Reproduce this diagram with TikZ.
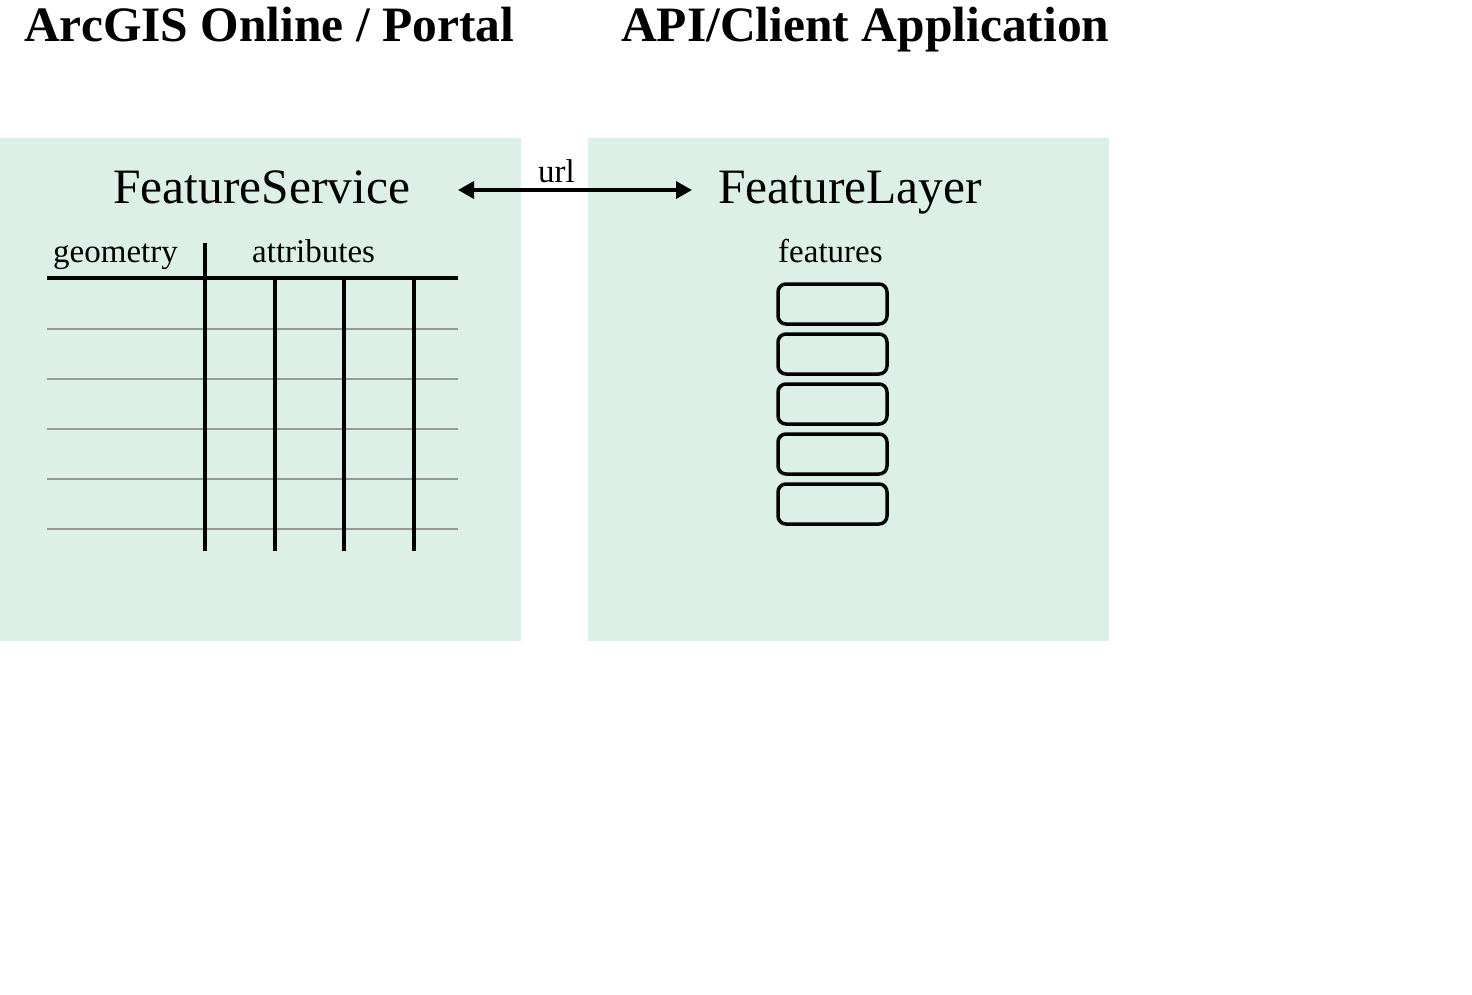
\documentclass[tikz,border=0pt]{standalone}
\usepackage{fontspec}
\setmainfont{Liberation Serif}
\usetikzlibrary{arrows.meta}
\definecolor{panelgreen}{RGB}{221,240,232}
\definecolor{rowgray}{RGB}{150,153,150}
\tikzset{
  panel/.style={fill=panelgreen, draw=none},
  titletext/.style={anchor=base west, inner sep=0pt, font=\fontsize{49.5}{59}\selectfont\bfseries},
  bigtext/.style={anchor=base west, inner sep=0pt, font=\fontsize{49.5}{59}\selectfont},
  smalltext/.style={anchor=base west, inner sep=0pt, font=\fontsize{33}{40}\selectfont},
  thickline/.style={line width=3.5pt},
  rowline/.style={draw=rowgray, line width=2pt},
  featbox/.style={draw, line width=3.5pt, rounded corners=8pt, minimum width=109pt, minimum height=40pt, inner sep=0pt},
  urlarrow/.style={line width=3.5pt, {Triangle[length=16pt,width=17pt]}-{Triangle[length=16pt,width=17pt]}}
}
\begin{document}
\begin{tikzpicture}[x=1pt,y=-1pt]
\useasboundingbox (0,0) rectangle (1472,995);
% panels
\path[panel] (0,138) rectangle (521,641);
\path[panel] (588,138) rectangle (1109,641);
% titles
\node[titletext] (t1) at (24,42) {ArcGIS Online / Portal};
\node[titletext] (t2) at (621,42) {API/Client Application};
% headings
\node[bigtext] (fs) at (113,204) {FeatureService};
\node[bigtext] (fl) at (718,204) {FeatureLayer};
% url arrow
\coordinate (aL) at (458,190);
\coordinate (aR) at (692,190);
\draw[urlarrow] (aL) -- (aR);
\node[smalltext] (url) at (538,183) {url};
% table
\node[smalltext] (geo) at (53,262) {geometry};
\node[smalltext] (attr) at (252,262) {attributes};
\foreach \yy in {329,379,429,479,529}
  \draw[rowline] (47,\yy) -- (458,\yy);
\draw[thickline] (47,278) -- (458,278);
\draw[thickline] (205,243) -- (205,551);
\foreach \xx in {275,344,414}
  \draw[thickline] (\xx,278) -- (\xx,551);
% features
\node[smalltext] (feat) at (778,262) {features};
\foreach \yy [count=\i] in {304,354,404,454,504}
  \node[featbox] (f\i) at (832.5,\yy) {};
\end{tikzpicture}
\end{document}
